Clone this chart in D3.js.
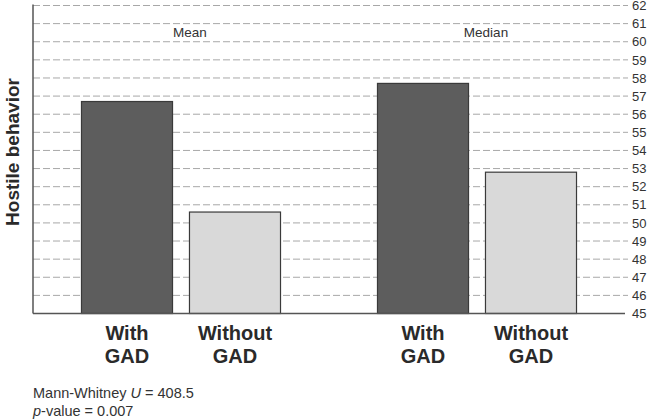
<!DOCTYPE html>
<html>
<head>
<meta charset="utf-8">
<script src="https://cdn.jsdelivr.net/npm/d3@7"></script>
<style>
  body { margin: 0; background: #fff; }
  svg { font-family: "Liberation Sans", Arial, sans-serif; }
</style>
</head>
<body>
<script>
// data
var groups = ["Mean", "Median"];
var subgroups = ["With GAD", "Without GAD"];
var meanValues = [56.7, 50.6];
var medianValues = [57.7, 52.8];
var yTicks = d3.range(45, 63);

var width = 650, height = 420;
var plotLeft = 33, plotRight = 625, plotTop = 5.5, plotBottom = 313.5;

var svg = d3.select("body").append("svg")
  .attr("width", width)
  .attr("height", height);

var y = d3.scaleLinear().domain([45, 62]).range([plotBottom, plotTop]);
var x0 = d3.scaleBand().domain(groups).range([plotLeft, plotRight]).padding(0);
var x1 = d3.scaleBand().domain(subgroups).range([0, x0.bandwidth()])
  .paddingInner(0.157).paddingOuter(0.449);

// dashed grid
svg.append("g").selectAll("line")
  .data(yTicks.filter(function(d) { return d > 45; }))
  .enter().append("line")
  .attr("x1", plotLeft).attr("x2", plotRight + 3)
  .attr("y1", function(d) { return y(d); })
  .attr("y2", function(d) { return y(d); })
  .attr("stroke", "#a8a8a8")
  .attr("stroke-width", 1)
  .attr("stroke-dasharray", "7,3");

// right axis labels
var axis = svg.append("g")
  .attr("transform", "translate(" + (plotRight + 3) + ",0)")
  .call(d3.axisRight(y).tickValues(yTicks).tickSize(0).tickPadding(4).tickFormat(d3.format("d")));
axis.select(".domain").remove();
axis.selectAll("text").attr("font-size", 13).attr("fill", "#333")
  .attr("font-family", "Liberation Sans, Arial, sans-serif");

var rows = [
  { group: "Mean", values: meanValues },
  { group: "Median", values: medianValues }
];

var g = svg.selectAll(".grp")
  .data(rows)
  .enter().append("g")
  .attr("class", "grp")
  .attr("transform", function(d) { return "translate(" + x0(d.group) + ",0)"; });

g.selectAll("rect")
  .data(function(d) {
    return d.values.map(function(v, i) { return { key: subgroups[i], value: v }; });
  })
  .enter().append("rect")
  .attr("x", function(d) { return x1(d.key); })
  .attr("y", function(d) { return y(d.value); })
  .attr("width", x1.bandwidth())
  .attr("height", function(d) { return plotBottom - y(d.value); })
  .attr("fill", function(d, i) { return i == 0 ? "#5d5d5d" : "#d9d9d9"; })
  .attr("stroke", "#3a3a3a")
  .attr("stroke-width", 1.2);

// group titles (sit a little right of the group centre)
g.append("text")
  .attr("x", x0.bandwidth() / 2 + 9)
  .attr("y", 37)
  .attr("text-anchor", "middle")
  .attr("font-size", 13.5)
  .attr("fill", "#333")
  .text(function(d) { return d.group; });

// category labels under bars
g.selectAll(".cat")
  .data(subgroups)
  .enter().append("text")
  .attr("class", "cat")
  .attr("text-anchor", "middle")
  .attr("font-size", 20)
  .attr("font-weight", "bold")
  .attr("fill", "#2a2a2a")
  .each(function(d) {
    var t = d3.select(this);
    var cx = x1(d) + x1.bandwidth() / 2;
    var parts = d.split(" ");
    t.append("tspan").attr("x", cx).attr("y", 340).text(parts[0]);
    t.append("tspan").attr("x", cx).attr("y", 363).text(parts[1]);
  });

// axes lines
svg.append("line")
  .attr("x1", plotLeft).attr("x2", plotLeft)
  .attr("y1", plotTop - 1).attr("y2", plotBottom)
  .attr("stroke", "#555").attr("stroke-width", 1.5);
svg.append("line")
  .attr("x1", plotLeft).attr("x2", plotRight)
  .attr("y1", plotBottom).attr("y2", plotBottom)
  .attr("stroke", "#555").attr("stroke-width", 1.5);

// y title
svg.append("text")
  .attr("transform", "translate(19,152) rotate(-90)")
  .attr("text-anchor", "middle")
  .attr("font-size", 19)
  .attr("font-weight", "bold")
  .attr("fill", "#2a2a2a")
  .text("Hostile behavior");

// note
var note = svg.append("g").attr("font-size", 14.5).attr("fill", "#333");
var t1 = note.append("text").attr("x", plotLeft).attr("y", 398);
t1.append("tspan").text("Mann-Whitney ");
t1.append("tspan").attr("font-style", "italic").text("U");
t1.append("tspan").text(" = 408.5");
var t2 = note.append("text").attr("x", plotLeft).attr("y", 416);
t2.append("tspan").attr("font-style", "italic").text("p");
t2.append("tspan").text("-value = 0.007");
</script>
</body>
</html>
